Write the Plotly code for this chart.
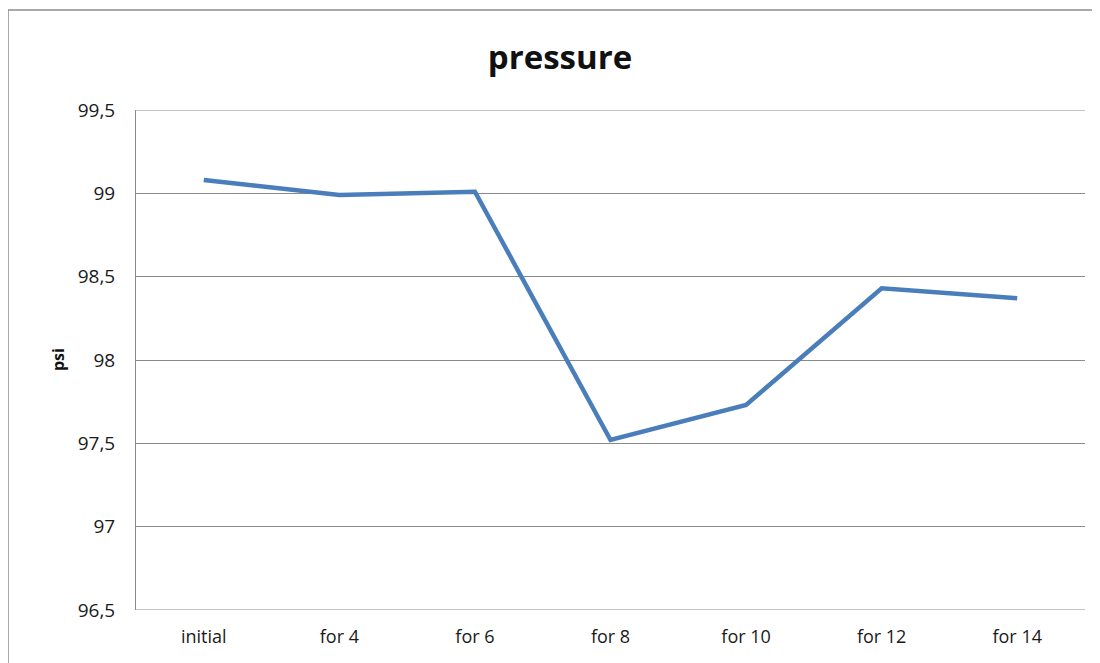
import plotly.graph_objects as go

categories = ["initial", "for 4", "for 6", "for 8", "for 10", "for 12", "for 14"]
pressure = [99.08, 98.99, 99.01, 97.52, 97.73, 98.43, 98.37]
y_ticks = [96.5, 97, 97.5, 98, 98.5, 99, 99.5]
y_tick_text = ["96,5", "97", "97,5", "98", "98,5", "99", "99,5"]

fig = go.Figure()
fig.add_trace(go.Scatter(
    x=categories, y=pressure, mode="lines",
    line=dict(color="#4a7ebb", width=4.5),
    showlegend=False,
))

W, H = 1092, 655
L, R, T, B = 128, 15, 102, 53
PW, PH = W - L - R, H - T - B

grid_color = "#8a8a8a"
border_color = "#8c8c8c"
fig.update_layout(
    width=W, height=H,
    margin=dict(l=L, r=R, t=T, b=B),
    paper_bgcolor="white", plot_bgcolor="white",
    font=dict(family="Open Sans, DejaVu Sans, sans-serif", size=18, color="#1a1a1a"),
    title=dict(text="<b>pressure</b>", x=552 / W, xanchor="center",
               y=1 - 49 / H, yanchor="middle",
               font=dict(size=33, color="#111")),
    xaxis=dict(
        type="category", range=[-0.5, 6.5], showgrid=False,
        showline=False, ticks="", zeroline=False,
        tickfont=dict(size=18), ticklabelstandoff=14,
    ),
    yaxis=dict(
        range=[96.5, 99.5], tickvals=y_ticks, ticktext=y_tick_text,
        showgrid=True, gridcolor=grid_color, gridwidth=1,
        showline=True, linecolor=grid_color, linewidth=1,
        ticks="", zeroline=False, tickfont=dict(size=19), ticklabelstandoff=16,
    ),
    annotations=[
        dict(text="<b>psi</b>", xref="paper", yref="paper", x=(50 - L) / PW, y=0.5,
             textangle=-90, showarrow=False, font=dict(size=16, color="#111"),
             xanchor="center", yanchor="middle"),
    ],
    shapes=[
        # outer chart frame: only left and top edges are visible in the reference
        dict(type="line", xref="paper", yref="paper",
             x0=-L / PW, x1=-L / PW, y0=-B / PH, y1=(PH + T - 2) / PH,
             line=dict(color=border_color, width=1.5), layer="below"),
        dict(type="line", xref="paper", yref="paper",
             x0=-L / PW, x1=(W - L) / PW, y0=(PH + T - 2) / PH, y1=(PH + T - 2) / PH,
             line=dict(color=border_color, width=1.5), layer="below"),
        dict(type="line", xref="paper", yref="y", x0=0, x1=1, y0=96.5, y1=96.5,
             line=dict(color=grid_color, width=1)),
        dict(type="line", xref="paper", yref="y", x0=0, x1=1, y0=99.5, y1=99.5,
             line=dict(color=grid_color, width=1)),
    ],
)

fig.write_html("out.html")
